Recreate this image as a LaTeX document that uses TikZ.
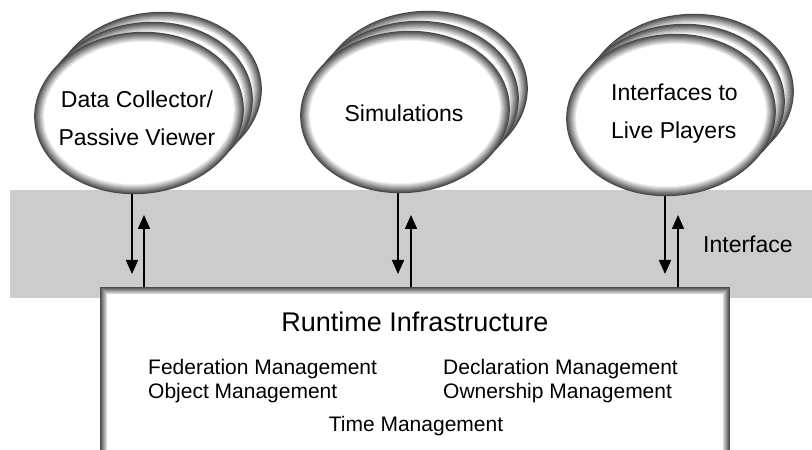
\documentclass[tikz,border=0pt]{standalone}
\usepackage{fontspec}
\setmainfont{Liberation Sans}
\usetikzlibrary{arrows.meta}
\newcommand{\rimell}[2]{%
  \foreach \i in {0,...,9}{%
    \pgfmathsetmacro\shadeval{72-7.2*\i}%
    \pgfmathsetmacro\rxv{105-\i}%
    \pgfmathsetmacro\ryv{81-\i}%
    \fill[black!\shadeval!white, rotate around={5:(#1,#2)}] (#1,#2) ellipse [x radius=\rxv pt, y radius=\ryv pt];
  }%
  \fill[white, rotate around={5:(#1,#2)}] (#1,#2) ellipse [x radius=95pt, y radius=71pt];
}
\newcommand{\ellstack}[2]{%
  \rimell{\the\numexpr#1+18\relax}{\the\numexpr#2+20\relax}%
  \rimell{\the\numexpr#1+9\relax}{\the\numexpr#2+10\relax}%
  \rimell{#1}{#2}%
}
\tikzset{
  flow/.style={line width=1.6pt, -{Triangle[length=14pt,width=12pt]}},
  ovaltext/.style={font=\fontsize{23}{38}\selectfont, inner sep=0pt},
  subtext/.style={font=\fontsize{21}{25}\selectfont, inner sep=0pt, anchor=base west},
}
\begin{document}
\begin{tikzpicture}[x=1pt,y=1pt]
\clip (0,0) rectangle (812,450);
\fill[white] (0,0) rectangle (812,450);
% interface band
\fill[black!20] (10,152) rectangle (812,260);
\node[font=\fontsize{23}{28}\selectfont, inner sep=0pt, anchor=base west] (iface) at (703,197) {Interface};
% down arrows (start hidden under ellipses)
\coordinate (d1s) at (132,268); \coordinate (d1e) at (132,176);
\coordinate (d2s) at (398,268); \coordinate (d2e) at (398,176);
\coordinate (d3s) at (665,268); \coordinate (d3e) at (665,176);
\draw[flow] (d1s) -- (d1e);
\draw[flow] (d2s) -- (d2e);
\draw[flow] (d3s) -- (d3e);
% ellipse stacks
\ellstack{139}{337}
\ellstack{405}{338}
\ellstack{671}{335}
\coordinate (e1) at (139,337);
\coordinate (e2) at (405,338);
\coordinate (e3) at (671,335);
\node[ovaltext, align=center] (t1) at (137,332) {Data Collector/\\Passive Viewer};
\node[ovaltext, anchor=base] (t2) at (404,328) {Simulations};
\node[ovaltext, align=left, anchor=west] (t3) at (611,336) {Interfaces to\\Live Players};
% runtime infrastructure box
\node[inner sep=0pt, minimum width=630pt, minimum height=173pt, anchor=north west] (rti) at (100,163) {};
\foreach \i in {0,...,6}{%
  \pgfmathsetmacro\shadeval{70-9*\i}%
  \fill[black!\shadeval!white] ([xshift=\i pt, yshift=-\i pt]rti.north west) rectangle ([xshift=-\i pt, yshift=\i pt]rti.south east);
}
\fill[white] ([xshift=7pt, yshift=-7pt]rti.north west) rectangle ([xshift=-7pt, yshift=7pt]rti.south east);
\node[font=\fontsize{27}{32}\selectfont, inner sep=0pt, anchor=base] (rtit) at (415,118) {Runtime Infrastructure};
\node[subtext] (fm) at (148,75) {Federation Management};
\node[subtext] (om) at (148,51) {Object Management};
\node[subtext] (dm) at (443,75) {Declaration Management};
\node[subtext] (owm) at (443,51) {Ownership Management};
\node[font=\fontsize{21}{25}\selectfont, inner sep=0pt, anchor=base] (tm) at (416,18) {Time Management};
% up arrows
\coordinate (u1) at (144,235);
\coordinate (u2) at (411,235);
\coordinate (u3) at (678,235);
\draw[flow] (rti.north -| u1) -- (u1);
\draw[flow] (rti.north -| u2) -- (u2);
\draw[flow] (rti.north -| u3) -- (u3);
\end{tikzpicture}
\end{document}
